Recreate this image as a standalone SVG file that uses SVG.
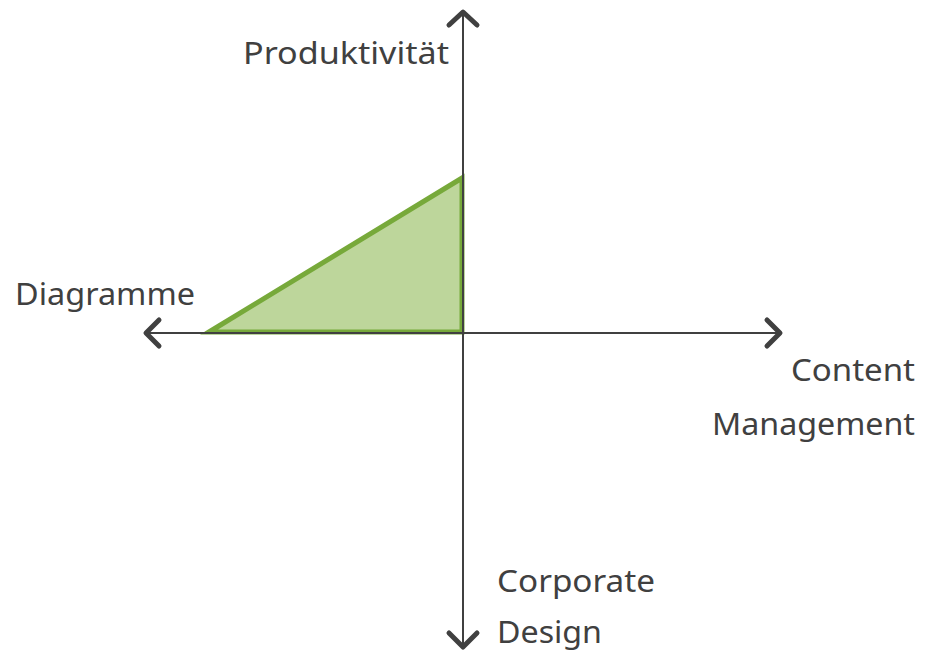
<svg xmlns="http://www.w3.org/2000/svg" width="926" height="652" viewBox="0 0 926 652">
<style>
.axis{stroke:#404040;stroke-width:2;fill:none}
.head{stroke:#404040;stroke-width:5;fill:none;stroke-linecap:round;stroke-linejoin:round}
.lbl{font-family:"Noto Sans","Open Sans",sans-serif;font-size:31px;fill:#404040}
</style>
<rect width="926" height="652" fill="#ffffff"/>
<g id="area">
<polygon points="209,332 462,178 462,332" fill="#bdd69b" stroke="#77a93a" stroke-width="5" stroke-linejoin="miter"/>
</g>
<g id="connectors">
<line class="axis" x1="463" y1="14" x2="463" y2="645"/>
<line class="axis" x1="147" y1="333" x2="780" y2="333"/>
<polyline class="head" points="449,25 463,12 477,25"/>
<polyline class="head" points="449,633 463,647 477,633"/>
<polyline class="head" points="159,320 146,333 159,346"/>
<polyline class="head" points="767,320 780,333 767,346"/>
</g>
<g id="label-y-top"><text class="lbl" x="243" y="64" textLength="206" lengthAdjust="spacingAndGlyphs">Produktivität</text></g>
<g id="label-x-left"><text class="lbl" x="15" y="305" textLength="180" lengthAdjust="spacingAndGlyphs">Diagramme</text></g>
<g id="label-x-right">
<text class="lbl" x="791" y="381" textLength="124" lengthAdjust="spacingAndGlyphs">Content</text>
<text class="lbl" x="712" y="435" textLength="203" lengthAdjust="spacingAndGlyphs">Management</text>
</g>
<g id="label-y-bottom">
<text class="lbl" x="497" y="592" textLength="158" lengthAdjust="spacingAndGlyphs">Corporate</text>
<text class="lbl" x="497" y="643" textLength="105" lengthAdjust="spacingAndGlyphs">Design</text>
</g>
</svg>
